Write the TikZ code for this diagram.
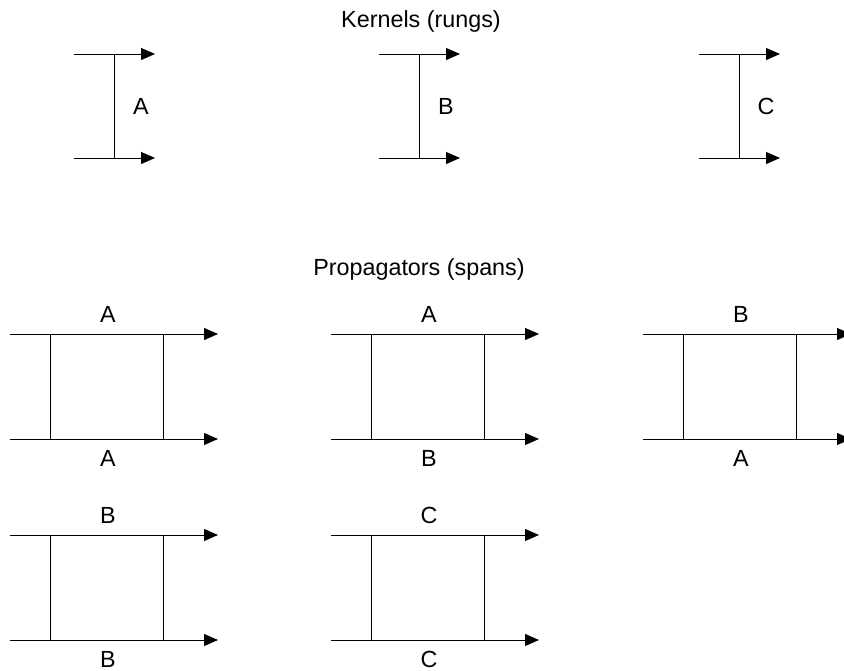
\documentclass[tikz,border=0pt]{standalone}
\usepackage{fontspec}
\setmainfont{Liberation Sans}
\usetikzlibrary{arrows.meta}

\begin{document}
\begin{tikzpicture}[
    x=0.75pt, y=-0.75pt,
    lbl/.style={font=\fontsize{17.5}{21}\selectfont, inner sep=0pt, anchor=base},
    line/.style={line width=0.75pt},
    arrow/.style={line, -{Triangle[length=10.5pt, width=9pt]}}
  ]
    \useasboundingbox (0,0) rectangle (844,671);

    % kernels: two incoming lines joined by one rung
    \node[lbl] (kernels) at (421,27) {Kernels (rungs)};
    \foreach \name/\x in {A/74, B/379, C/699} {
      \coordinate (k\name-tl) at (\x,54);
      \coordinate (k\name-tr) at (\x+81,54);
      \coordinate (k\name-bl) at (\x,158);
      \coordinate (k\name-br) at (\x+81,158);
      \coordinate (k\name-rt) at (\x+40,54);
      \coordinate (k\name-rb) at (\x+40,158);
      \draw[arrow] (k\name-tl) -- (k\name-tr);
      \draw[arrow] (k\name-bl) -- (k\name-br);
      \draw[line] (k\name-rt) -- (k\name-rb);
      \node[lbl] (k\name-lbl) at (\x+67,114) {\name};
    }

    % propagators: two rungs in a row, labels on top and bottom lines
    \node[lbl] (props) at (419,275) {Propagators (spans)};
    \foreach \i/\x/\y/\top/\bot in {1/10/334/A/A, 2/331/334/A/B, 3/643/334/B/A,
                                    4/10/535/B/B, 5/331/535/C/C} {
      \coordinate (s\i-tl) at (\x,\y);
      \coordinate (s\i-tr) at (\x+208,\y);
      \coordinate (s\i-bl) at (\x,\y+105);
      \coordinate (s\i-br) at (\x+208,\y+105);
      \draw[arrow] (s\i-tl) -- (s\i-tr);
      \draw[arrow] (s\i-bl) -- (s\i-br);
      \coordinate (s\i-at) at (\x+40,\y);
      \coordinate (s\i-ab) at (\x+40,\y+105);
      \coordinate (s\i-bt) at (\x+153,\y);
      \coordinate (s\i-bb) at (\x+153,\y+105);
      \draw[line] (s\i-at) -- (s\i-ab);
      \draw[line] (s\i-bt) -- (s\i-bb);
      \node[lbl] (s\i-top) at (\x+98,\y-12) {\top};
      \node[lbl] (s\i-bot) at (\x+98,\y+132) {\bot};
    }
\end{tikzpicture}
\end{document}
